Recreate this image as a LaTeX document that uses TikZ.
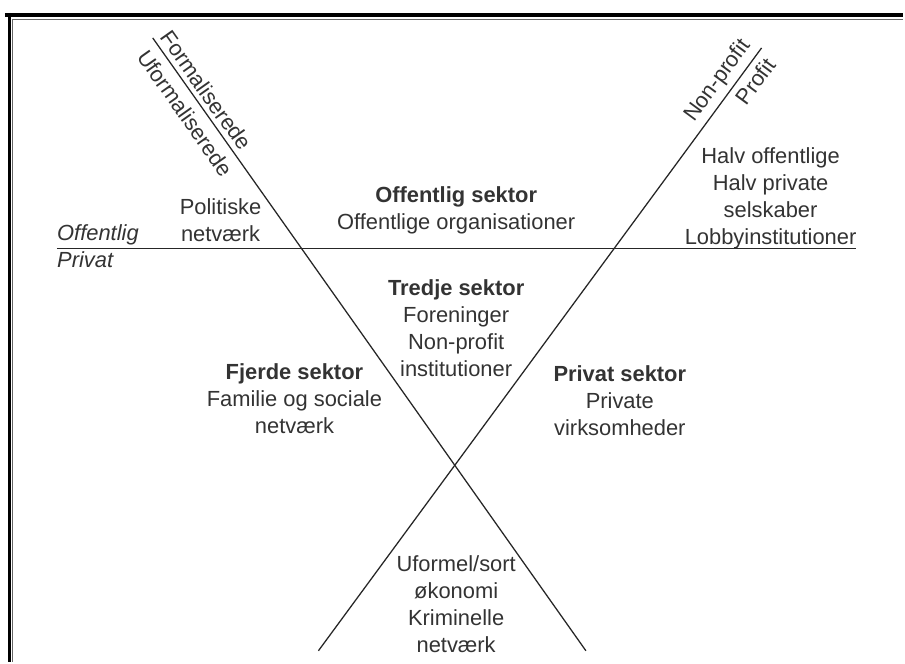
\documentclass[tikz,border=0pt]{standalone}
\usepackage{fontspec}
\setmainfont{Liberation Sans}
\begin{document}
\begin{tikzpicture}[
  txt/.style={font=\fontsize{15.6pt}{19.2pt}\selectfont, text=black!80, align=center, inner sep=0pt},
  sidetxt/.style={txt, font=\fontsize{15.6pt}{19.2pt}\selectfont\itshape, anchor=west},
  axis/.style={line width=0.9pt, black!85}]
\fill [white] (0, 0) rectangle (22.625, 16.575);

\draw [line width=2.4pt] (0.125, 16.2) -- (22.625, 16.2);
\draw [line width=2.4pt] (0.2375, 16.25) -- (0.2375, 0);
\draw [line width=0.4pt, black!60] (0.32, 16.1) -- (22.625, 16.1);
\draw [line width=0.4pt, black!60] (0.32, 16.1) -- (0.32, 0);

\coordinate (ltop) at (3.825, 15.625);
\coordinate (lbot) at (14.675, 0.275);
\coordinate (rtop) at (19.075, 15.375);
\coordinate (rbot) at (7.975, 0.275);
\coordinate (hleft) at (1.425, 10.35);
\coordinate (hright) at (21.45, 10.35);

\draw [axis] (hleft) -- (hright);
\draw [axis] (ltop) -- (lbot)
  node [txt, pos=0.098, sloped, above=0.12cm] (form) {Formaliserede}
  node [txt, pos=0.107, sloped, below=0.2cm] (uform) {Uformaliserede};
\draw [axis] (rbot) -- (rtop)
  node [txt, pos=0.93, sloped, above=0.12cm] (nonprof) {Non-profit}
  node [txt, pos=0.959, sloped, below=0.15cm] (prof) {Profit};

\node [sidetxt] (offl) at (1.425, 10.7) {Offentlig};
\node [sidetxt] (priv) at (1.425, 10.07) {Privat};

\node [txt] (offsek) at (11.425, 11.3) {\textbf{Offentlig sektor}\\Offentlige organisationer};
\node [txt] (polit) at (5.525, 11.06) {Politiske\\netværk};
\node [txt] (halv) at (19.3, 11.6) {Halv offentlige\\Halv private\\selskaber\\Lobbyinstitutioner};
\node [txt] (tredje) at (11.425, 8.36) {\textbf{Tredje sektor}\\Foreninger\\Non-profit\\institutioner};
\node [txt] (fjerde) at (7.375, 6.58) {\textbf{Fjerde sektor}\\Familie og sociale\\netværk};
\node [txt] (privsek) at (15.525, 6.53) {\textbf{Privat sektor}\\Private\\virksomheder};
\node [txt] (uformel) at (11.425, 1.45) {Uformel/sort\\økonomi\\Kriminelle\\netværk};
\end{tikzpicture}
\end{document}
